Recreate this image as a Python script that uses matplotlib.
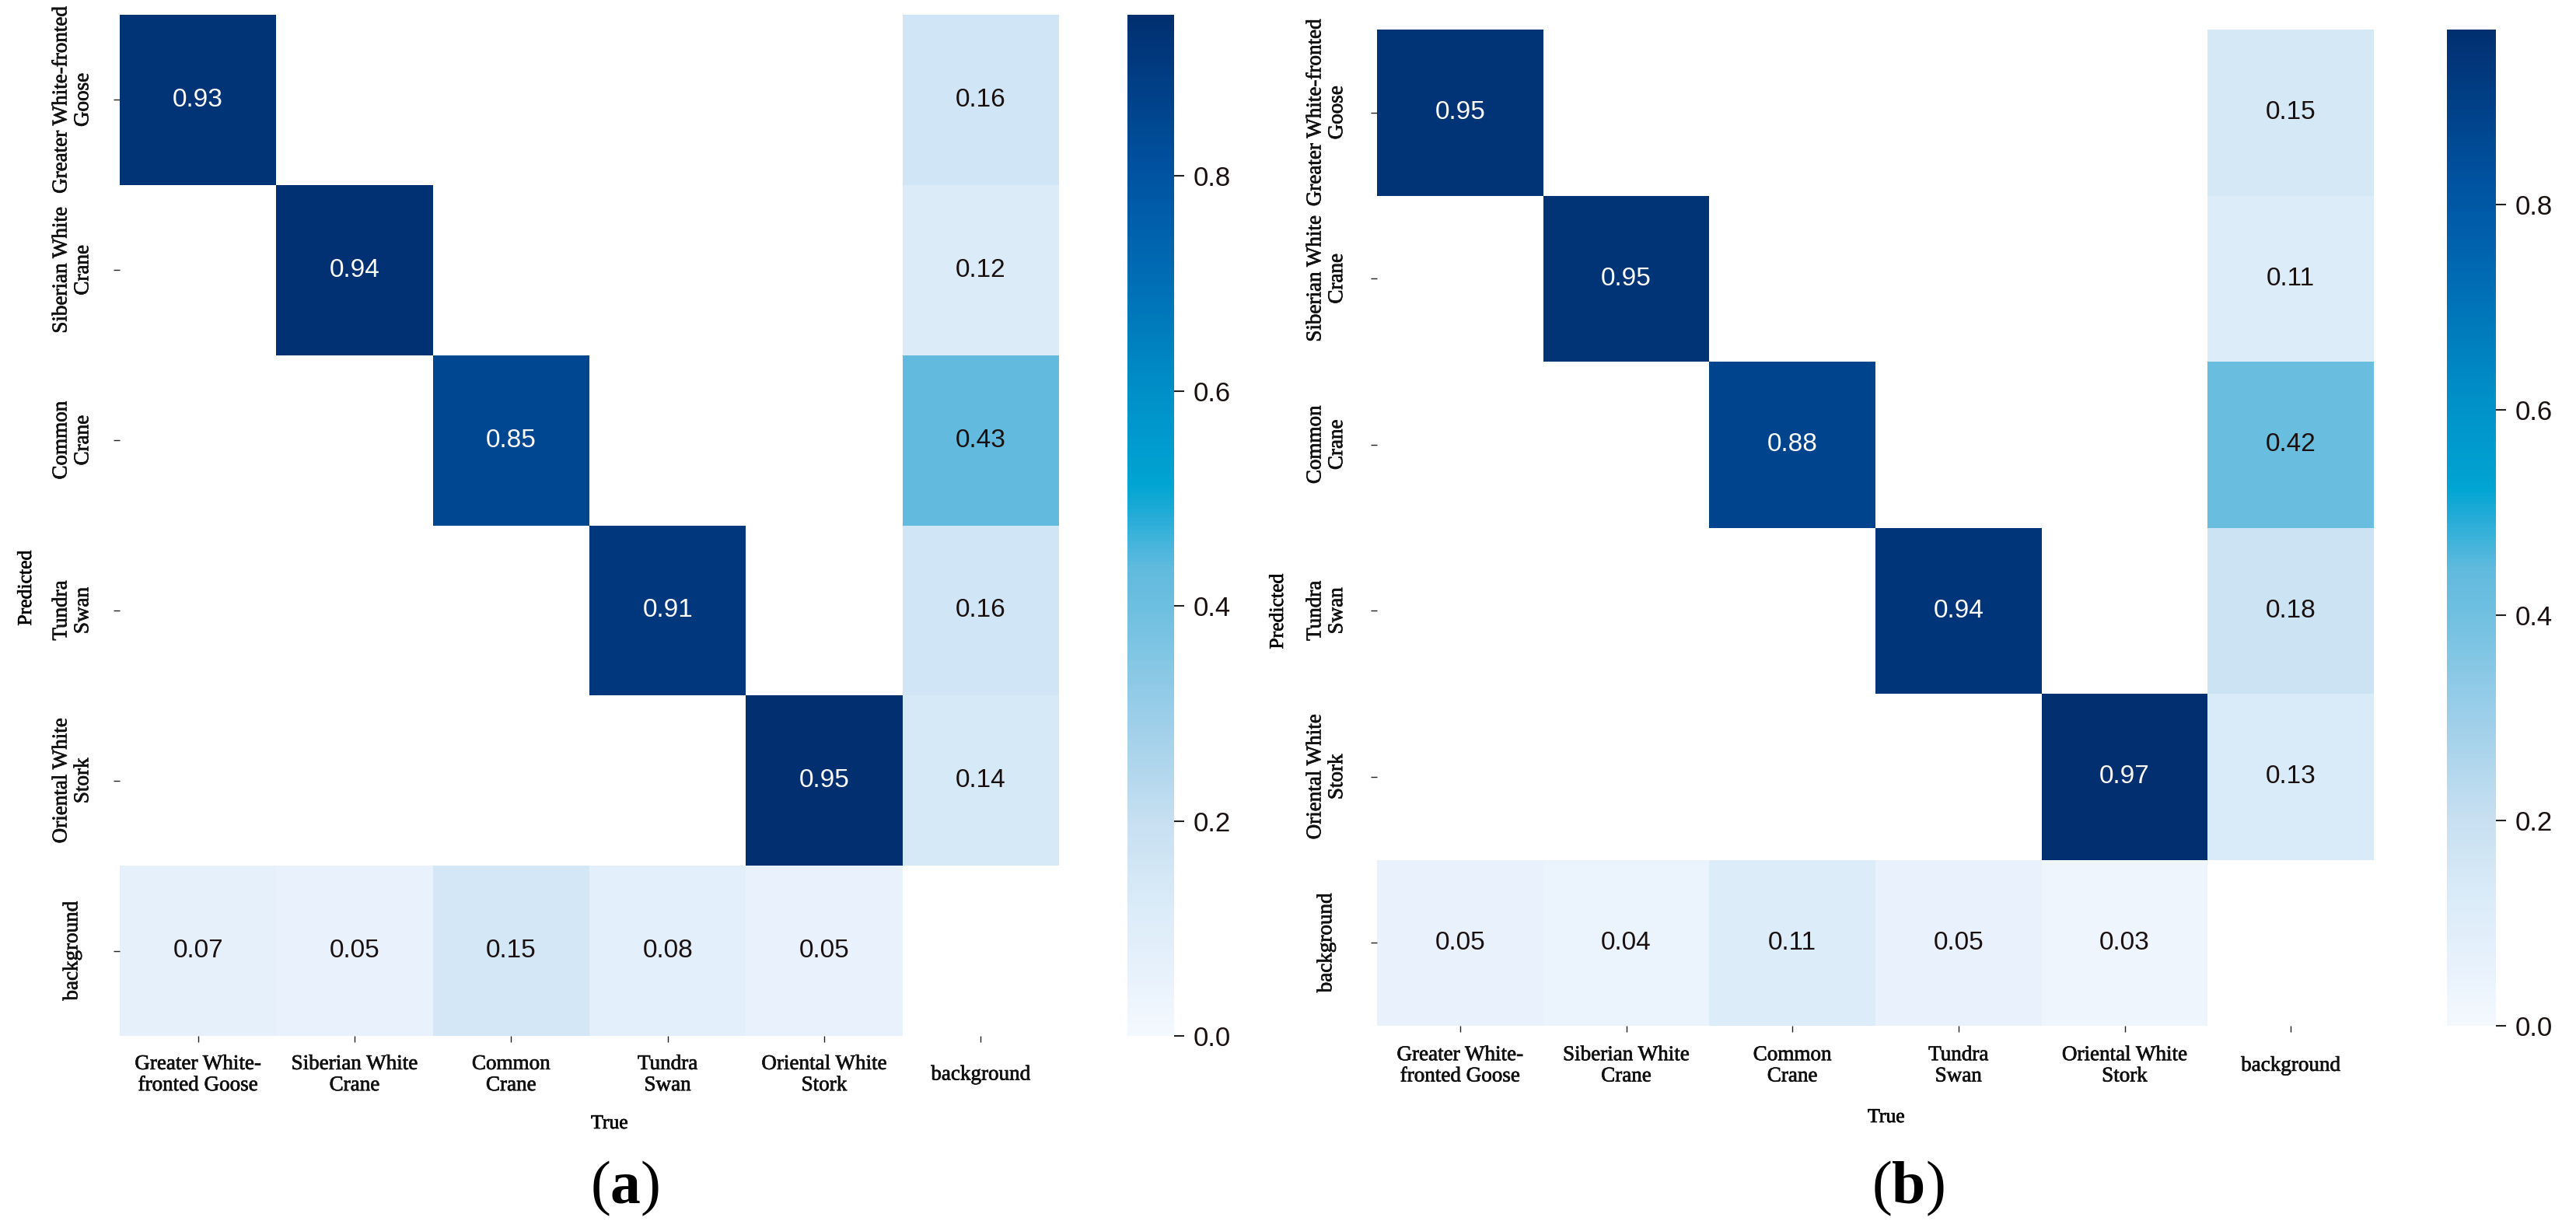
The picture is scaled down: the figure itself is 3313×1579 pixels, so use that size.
import numpy as np
import matplotlib
matplotlib.use("Agg")
import matplotlib.pyplot as plt
import matplotlib.patheffects as pe
from matplotlib.colors import LinearSegmentedColormap
import seaborn as sns

# ukuran gambar dalam piksel
W, H = 3313, 1579

labels_x = ["Greater White-\nfronted Goose", "Siberian White\nCrane", "Common\nCrane",
            "Tundra\nSwan", "Oriental White\nStork", "background"]
labels_y = ["Greater White-fronted\nGoose", "Siberian White\nCrane", "Common\nCrane",
            "Tundra\nSwan", "Oriental White\nStork", "background"]

# baris = Predicted, kolom = True
diag_a = [0.93, 0.94, 0.85, 0.91, 0.95]
last_col_a = [0.16, 0.12, 0.43, 0.16, 0.14]
last_row_a = [0.07, 0.05, 0.15, 0.08, 0.05]

diag_b = [0.95, 0.95, 0.88, 0.94, 0.97]
last_col_b = [0.15, 0.11, 0.42, 0.18, 0.13]
last_row_b = [0.05, 0.04, 0.11, 0.05, 0.03]

cbar_ticks = [0.0, 0.2, 0.4, 0.6, 0.8]

# warna colorbar (mirip Blues tapi lebih cyan di tengah)
cmap_pos = [0.0, 0.05, 0.13, 0.21, 0.32, 0.42, 0.46, 0.54, 0.63, 0.76, 0.85, 1.0]
cmap_col = ["#f4f9fe", "#e9f2fc", "#daebf8", "#c6dff1", "#98cde8", "#6dbfe0", "#5fbade",
            "#00a4d3", "#0090c8", "#0068b2", "#0052a0", "#012f70"]
cmap = LinearSegmentedColormap.from_list("blues2", list(zip(cmap_pos, cmap_col)))

plt.rcParams["font.family"] = ["Liberation Serif", "DejaVu Sans"]
plt.rcParams["mathtext.fontset"] = "custom"
plt.rcParams["mathtext.rm"] = "Liberation Serif"
plt.rcParams["mathtext.bf"] = "Liberation Serif:bold"

# sedikit menebalkan teks serif
heavier = [pe.withStroke(linewidth=0.5, foreground="#111111")]


def rect(x0, y0, x1, y1):
    # piksel -> koordinat figure
    return [x0 / W, 1 - y1 / H, (x1 - x0) / W, (y1 - y0) / H]


def build_matrix(diag, last_col, last_row):
    m = np.zeros((6, 6))
    for i in range(5):
        m[i, i] = diag[i]
        m[i, 5] = last_col[i]
        m[5, i] = last_row[i]
    return m


def draw_panel(fig, m, box, cbar_box, xpad, ypad, name, xlab_pos, ylab_pos, name_pos):
    ax = fig.add_axes(rect(*box))
    cax = fig.add_axes(rect(*cbar_box))
    sns.heatmap(m, ax=ax, cbar_ax=cax, cmap=cmap, vmin=0, vmax=m.max(), mask=(m == 0),
                annot=True, fmt=".2f",
                annot_kws={"fontsize": 24, "family": "Liberation Sans"},
                xticklabels=labels_x, yticklabels=labels_y)
    ax.tick_params(axis="x", length=6, width=1, pad=xpad, color="#222222")
    ax.tick_params(axis="y", length=6, width=1, pad=ypad, color="#222222")
    for t in ax.get_xticklabels():
        t.set_rotation(0)
        t.set_fontsize(19.5)
        t.set_linespacing(1.12)
        t.set_ha("center")
        t.set_va("center")
        t.set_color("#111111")
        t.set_path_effects(heavier)
    for t in ax.get_yticklabels():
        t.set_rotation(90)
        t.set_fontsize(19.5)
        t.set_linespacing(1.15)
        t.set_va("center")
        t.set_ha("center")
        t.set_multialignment("center")
        t.set_color("#111111")
        t.set_path_effects(heavier)
    # angka di sel terang warnanya hampir hitam
    for t in ax.texts:
        if float(t.get_text()) < 0.6:
            t.set_color("#1a1010")

    cax.set_yticks(cbar_ticks)
    cax.set_yticklabels(["%.1f" % v for v in cbar_ticks], family="Liberation Sans", fontsize=25)
    cax.tick_params(length=9, width=1.5, pad=9, color="#222222", labelcolor="#1a1010")

    fig.text(xlab_pos[0] / W, 1 - xlab_pos[1] / H, "True", fontsize=18.5,
             ha="center", va="center", path_effects=heavier)
    fig.text(ylab_pos[0] / W, 1 - ylab_pos[1] / H, "Predicted", fontsize=18.5,
             rotation=90, ha="center", va="center", path_effects=heavier)
    fig.text(name_pos[0] / W, 1 - name_pos[1] / H, "($\\mathbf{%s}$)" % name, fontsize=56,
             ha="center", va="center")


fig = plt.figure(figsize=(W / 100, H / 100), dpi=100)

draw_panel(fig, build_matrix(diag_a, last_col_a, last_row_a),
           (154, 19, 1362, 1332), (1450, 19, 1510, 1332), 30, 38, "a",
           (784, 1445), (34, 756), (804, 1528))
draw_panel(fig, build_matrix(diag_b, last_col_b, last_row_b),
           (1771, 38, 3053, 1319), (3147, 38, 3210, 1319), 31, 41, "b",
           (2426, 1437), (1644, 786), (2454, 1528))

fig.savefig("out.png", dpi=100)
